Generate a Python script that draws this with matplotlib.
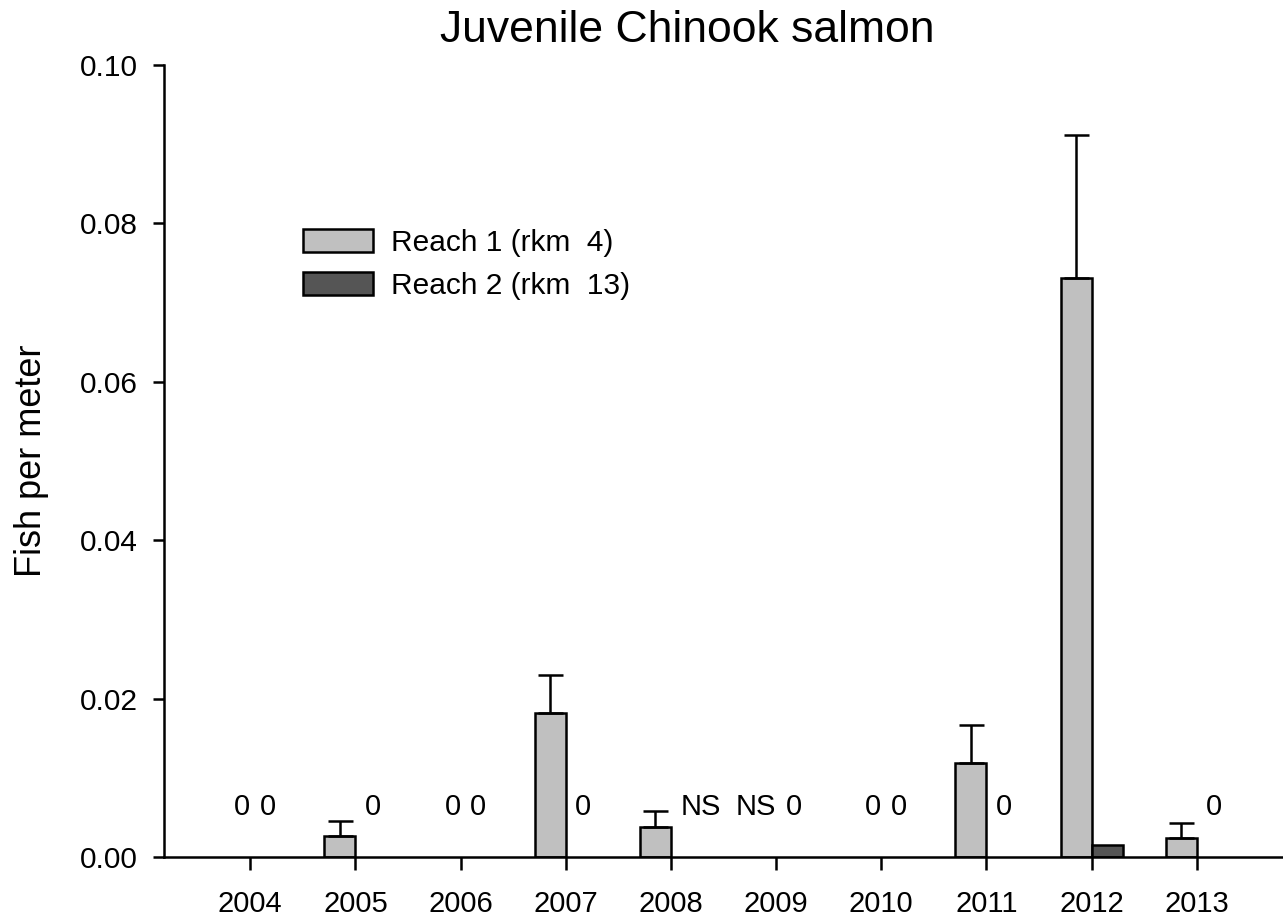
import matplotlib
matplotlib.use("Agg")
import matplotlib.pyplot as plt
import numpy as np

plt.rcParams['font.family'] = ['Liberation Sans', 'DejaVu Sans']

years = [2004, 2005, 2006, 2007, 2008, 2009, 2010, 2011, 2012, 2013]
reach1 = [0.0, 0.0027, 0.0, 0.0182, 0.0038, 0.0, 0.0, 0.0119, 0.0731, 0.0024]
reach1_err = [0.0, 0.0019, 0.0, 0.0048, 0.0020, 0.0, 0.0, 0.0048, 0.0181, 0.0019]
reach2 = [0.0, 0.0, 0.0, 0.0, 0.0, 0.0, 0.0, 0.0, 0.00156, 0.0]
reach1_lbl = ["0", "", "0", "", "", "NS", "0", "", "", ""]
reach2_lbl = ["0", "0", "0", "0", "NS", "0", "0", "0", "", "0"]
yticks = [0.00, 0.02, 0.04, 0.06, 0.08, 0.10]
labels = ["Reach 1 (rkm  4)", "Reach 2 (rkm  13)"]

W, H = 1283, 924
fig = plt.figure(figsize=(W / 100, H / 100), dpi=100)
ax = fig.add_axes([164 / W, (H - 857) / H, (W - 164) / W, (857 - 65) / H])

LW = 1.8
bw = 0.295
x = np.array(years, dtype=float)
mask = np.array(reach1) > 0
ax.bar(x[mask], np.array(reach1)[mask], width=-bw, align='edge',
       color='#c0c0c0', edgecolor='black', linewidth=LW, label=labels[0], zorder=2)
ax.errorbar(x[mask] - bw / 2, np.array(reach1)[mask],
            yerr=[np.zeros(mask.sum()), np.array(reach1_err)[mask]],
            fmt='none', ecolor='black', elinewidth=LW, capsize=9, capthick=LW, zorder=3)
mask2 = np.array(reach2) > 0
ax.bar(x[mask2], np.array(reach2)[mask2], width=bw, align='edge',
       color='#555555', edgecolor='black', linewidth=LW, label=labels[1], zorder=2)

ly = 0.0063
for xi, l1, l2 in zip(years, reach1_lbl, reach2_lbl):
    if l1:
        ax.text(xi - 0.0, ly, l1, ha='right', va='center', fontsize=21)
    if l2:
        ax.text(xi + 0.09, ly, l2, ha='left', va='center', fontsize=21)

ax.set_xlim(2003.18, 2013.82)
ax.set_ylim(0, 0.10)
ax.set_xticks(years)
ax.set_xticklabels([str(y) for y in years])
ax.set_yticks(yticks)
ax.set_yticklabels([f"{v:.2f}" for v in yticks])
ax.spines['top'].set_visible(False)
ax.spines['right'].set_visible(False)
for s in ['left', 'bottom']:
    ax.spines[s].set_linewidth(LW)
ax.tick_params(axis='x', direction='out', length=9, width=LW, labelsize=21, pad=15)
ax.tick_params(axis='y', direction='out', length=8, width=LW, labelsize=21.5, pad=11)

ax.set_ylabel("Fish per meter", fontsize=26, labelpad=22)
fig.text(687 / W, 1 - 30 / H, "Juvenile Chinook salmon", ha='center', va='center', fontsize=32)

leg = ax.legend(loc='upper left', bbox_to_anchor=(303 / W, 1 - 229 / H),
                bbox_transform=fig.transFigure, frameon=False, fontsize=21.5,
                handlelength=2.35, handleheight=0.8, handletextpad=0.6,
                labelspacing=0.5, borderpad=0, borderaxespad=0)
for p in leg.get_patches():
    p.set_linewidth(LW)

fig.savefig("out.png", dpi=100)
